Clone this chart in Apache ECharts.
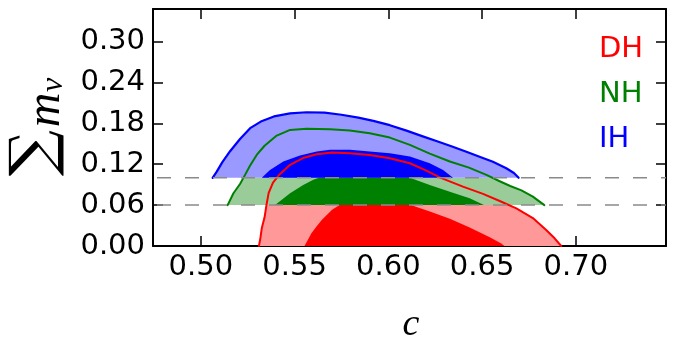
<!DOCTYPE html>
<html><head><meta charset="utf-8">
<script src="https://cdn.jsdelivr.net/npm/echarts@6/dist/echarts.min.js"></script>
<style>html,body{margin:0;padding:0;background:#fff}#c{width:678px;height:339px}</style>
</head><body><div id="c"></div>
<script>
// ---- data ----
const xTicks = [0.50, 0.55, 0.60, 0.65, 0.70];
const yTicks = [0.00, 0.06, 0.12, 0.18, 0.24, 0.30];
const xRange = [0.4745, 0.7481];
const yRange = [0, 0.3476];
const thresholds = [0.06, 0.10];
const hierarchies = ['DH', 'NH', 'IH'];
// outer (2 sigma) contours
const dhOuter = [[0.5310,0.000],[0.5318,0.012],[0.5325,0.026],[0.5340,0.042],[0.5350,0.060],[0.5362,0.078],[0.5385,0.093],[0.5420,0.105],[0.5476,0.119],[0.5550,0.1295],[0.5618,0.1345],[0.5700,0.1370],[0.5795,0.1362],[0.5901,0.1336],[0.6008,0.1288],[0.6115,0.1214],[0.6200,0.1110],[0.6280,0.1000],[0.6398,0.0870],[0.6505,0.0765],[0.6594,0.0660],[0.6683,0.0553],[0.6771,0.0410],[0.6842,0.0235],[0.6887,0.0113],[0.6922,0.000]];
const nhOuter = [[0.5143,0.060],[0.5174,0.0774],[0.5209,0.091],[0.5236,0.1043],[0.5263,0.118],[0.5298,0.1336],[0.5340,0.147],[0.5405,0.162],[0.5476,0.1703],[0.5564,0.1718],[0.5689,0.1714],[0.5795,0.1693],[0.5901,0.1655],[0.6008,0.159],[0.6115,0.1483],[0.6221,0.1355],[0.6328,0.1240],[0.6430,0.1150],[0.6523,0.1043],[0.6594,0.095],[0.6650,0.0880],[0.6710,0.0815],[0.6771,0.0724],[0.6832,0.060]];
const ihOuter = [[0.5063,0.100],[0.5085,0.109],[0.5115,0.123],[0.5156,0.139],[0.5209,0.157],[0.5263,0.1728],[0.5320,0.1825],[0.5390,0.1900],[0.5476,0.1945],[0.5564,0.1962],[0.5660,0.1955],[0.5750,0.1925],[0.5840,0.1882],[0.5920,0.1835],[0.6008,0.1772],[0.6097,0.1692],[0.6180,0.1612],[0.6260,0.1537],[0.6340,0.1460],[0.6420,0.1380],[0.6490,0.1305],[0.6558,0.1235],[0.6629,0.1141],[0.6670,0.107],[0.6695,0.100]];
// inner (1 sigma) contours, visible part
const dhInner = [[0.5553,0.000],[0.5590,0.0186],[0.5618,0.029],[0.5645,0.038],[0.5700,0.0530],[0.5740,0.0600],[0.6120,0.0600],[0.6229,0.0500],[0.6328,0.040],[0.6434,0.027],[0.6541,0.013],[0.6600,0.004],[0.6620,0.000]];
const nhInner = [[0.5396,0.060],[0.5476,0.0774],[0.5546,0.0896],[0.5600,0.097],[0.5630,0.100],[0.6115,0.100],[0.6221,0.0896],[0.6328,0.0797],[0.6434,0.0700],[0.6510,0.060]];
const ihInner = [[0.5325,0.100],[0.5369,0.1116],[0.5440,0.1238],[0.5529,0.1326],[0.5618,0.1385],[0.5689,0.1410],[0.5795,0.1410],[0.5901,0.1385],[0.6008,0.1361],[0.6115,0.1311],[0.6221,0.1214],[0.6292,0.1116],[0.6345,0.100]];

// ---- helpers ----
function clipEdge(pts, inside, yv) {
  const res = [];
  for (let i = 0; i < pts.length; i++) {
    const a = pts[i], b = pts[(i + 1) % pts.length];
    const ia = inside(a), ib = inside(b);
    if (ia) res.push(a);
    if (ia !== ib) {
      const t = (yv - a[1]) / (b[1] - a[1]);
      res.push([a[0] + t * (b[0] - a[0]), yv]);
    }
  }
  return res;
}
function clipBand(poly, lo, hi) {
  let out = clipEdge(poly, p => p[1] >= lo - 1e-9, lo);
  out = clipEdge(out, p => p[1] <= hi + 1e-9, hi);
  return out;
}
function fillSeries(name, pts, color, z) {
  return {
    type: 'custom', name: name, coordinateSystem: 'cartesian2d', xAxisIndex: 0, yAxisIndex: 0,
    data: [[pts[0][0], pts[0][1]]], z: z, silent: true, clip: true,
    renderItem: function (params, api) {
      return { type: 'polygon', shape: { points: pts.map(p => api.coord(p)) }, style: { fill: color } };
    }
  };
}
function lineSeries(name, pts, color, w, z) {
  return {
    type: 'line', name: name, data: pts, showSymbol: false, symbol: 'none', z: z, silent: true,
    lineStyle: { color: color, width: w, join: 'round', cap: 'round' }, animation: false
  };
}
const colors = { DH: '#ff0000', NH: '#008000', IH: '#0000ff' };
const light = { DH: '#ff9999', NH: '#99cc99', IH: '#9999ff' };
const bands = { DH: [0, thresholds[0]], NH: [thresholds[0], thresholds[1]], IH: [thresholds[1], 1] };

const series = [
  fillSeries('DH2', clipBand(dhOuter, bands.DH[0], bands.DH[1]), light.DH, 1),
  fillSeries('NH2', clipBand(nhOuter, bands.NH[0], bands.NH[1]), light.NH, 1),
  fillSeries('IH2', clipBand(ihOuter, bands.IH[0], bands.IH[1]), light.IH, 1),
  fillSeries('DH1', clipBand(dhInner, bands.DH[0], bands.DH[1]), colors.DH, 2),
  fillSeries('NH1', clipBand(nhInner, bands.NH[0], bands.NH[1]), colors.NH, 2),
  fillSeries('IH1', clipBand(ihInner, bands.IH[0], bands.IH[1]), colors.IH, 2),
  lineSeries('IHline', ihOuter, colors.IH, 2.2, 3),
  lineSeries('NHline', nhOuter, colors.NH, 2, 4),
  lineSeries('DHline', dhOuter, colors.DH, 2, 5)
];
thresholds.forEach((t, i) => {
  series.push({
    type: 'line', name: 'thr' + i, data: [[xRange[0], t], [xRange[1], t]], showSymbol: false, symbol: 'none', z: 6, silent: true,
    lineStyle: { color: '#8a8a8a', width: 1.5, type: [14, 14], dashOffset: -4 }
  });
});

const axisLineStyle = { show: true, onZero: false, lineStyle: { color: '#000', width: 2 } };
const tickStyle = { show: true, inside: true, length: 10, lineStyle: { color: '#000', width: 1.5 } };
const labelFont = { fontFamily: 'DejaVu Sans', fontSize: 29, color: '#000' };

const chart = echarts.init(document.getElementById('c'), null, { renderer: 'canvas' });
chart.setOption({
  animation: false,
  backgroundColor: '#fff',
  grid: { left: 153, right: 12, top: 9, bottom: 93, containLabel: false },
  xAxis: [
    { type: 'value', min: xRange[0], max: xRange[1], position: 'bottom',
      axisLine: axisLineStyle, axisTick: Object.assign({ customValues: xTicks }, tickStyle),
      axisLabel: Object.assign({ customValues: xTicks, margin: 7, formatter: v => v.toFixed(2) }, labelFont),
      splitLine: { show: false } },
    { type: 'value', min: xRange[0], max: xRange[1], position: 'top',
      axisLine: axisLineStyle, axisTick: Object.assign({ customValues: xTicks }, tickStyle),
      axisLabel: { show: false }, splitLine: { show: false } }
  ],
  yAxis: [
    { type: 'value', min: yRange[0], max: yRange[1], position: 'left',
      axisLine: axisLineStyle, axisTick: Object.assign({ customValues: yTicks }, tickStyle),
      axisLabel: Object.assign({ customValues: yTicks, margin: 8, formatter: v => v.toFixed(2) }, labelFont),
      splitLine: { show: false } },
    { type: 'value', min: yRange[0], max: yRange[1], position: 'right',
      axisLine: axisLineStyle, axisTick: Object.assign({ customValues: yTicks }, tickStyle),
      axisLabel: { show: false }, splitLine: { show: false } }
  ],
  graphic: [
    { type: 'text', left: 599, top: 35, style: { text: hierarchies[0], fill: colors.DH, font: '29px "DejaVu Sans"' } },
    { type: 'text', left: 599, top: 80, style: { text: hierarchies[1], fill: colors.NH, font: '29px "DejaVu Sans"' } },
    { type: 'text', left: 599, top: 125, style: { text: hierarchies[2], fill: colors.IH, font: '29px "DejaVu Sans"' } },
    { type: 'text', x: 411, y: 325, style: { text: 'c', fill: '#000', font: 'italic 38px "Liberation Serif"', textAlign: 'center', textVerticalAlign: 'middle' } },
    { type: 'text', x: 36, y: 153, rotation: Math.PI / 2, scaleX: 1.08, style: { text: '∑', fill: '#000', font: '60px "DejaVu Serif"', textAlign: 'center', textVerticalAlign: 'middle' } },
    { type: 'text', x: 46, y: 110, rotation: Math.PI / 2, style: { text: 'm', fill: '#000', font: 'italic 48px "Liberation Serif"', textAlign: 'center', textVerticalAlign: 'middle' } },
    { type: 'text', x: 54, y: 85, rotation: Math.PI / 2, style: { text: 'ν', fill: '#000', font: 'italic 32px "Liberation Serif"', textAlign: 'center', textVerticalAlign: 'middle' } }
  ],
  series: series
});
</script>
</body></html>
